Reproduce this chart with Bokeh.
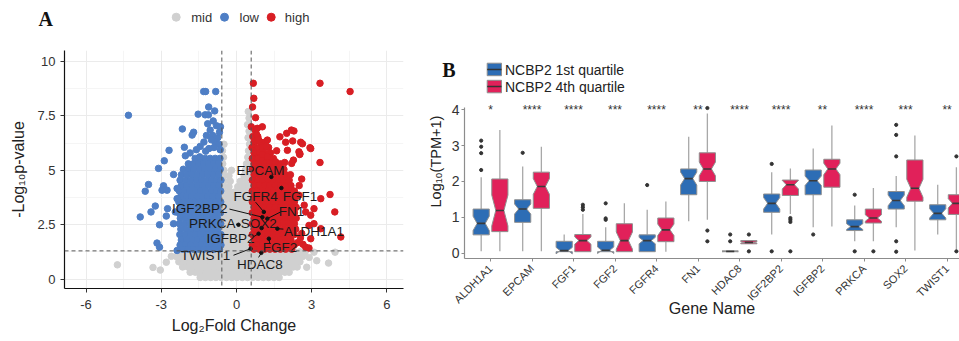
import math
from bokeh.plotting import figure
from bokeh.layouts import row, column
from bokeh.models import Range1d, FixedTicker, Span, Title
from bokeh.embed import file_html
from bokeh.resources import INLINE
from bokeh.core.properties import value

SANS = "Liberation Sans"
SERIF = "Liberation Serif"

# ---------------- Panel A : volcano plot ----------------
legend_a = ["mid", "low", "high"]
colors_a = ["#D0D0D0", "#4E7EC5", "#D81E24"]
x_ticks_a = [-6, -3, 0, 3, 6]
x_minor_a = [-4.5, -1.5, 1.5, 4.5]
y_ticks_a = [0, 2.5, 5, 7.5, 10]
y_minor_a = [1.25, 3.75, 6.25, 8.75]
fc_cutoff = 0.585
p_cutoff = 1.301

# grey ("mid") points, rows of (y, [x values])
mid_rows = [
    (0.08, [-1.45, -1.24, -1.03, -0.82, -0.61, -0.4, -0.19, 0.02, 0.23, 0.44, 0.65, 0.86, 1.07, 1.28, 1.49, 1.7]),
    (0.32, [-1.85, -1.64, -1.43, -1.22, -1.01, -0.8, -0.59, -0.38, -0.17, 0.04, 0.25, 0.46, 0.67, 0.88, 1.09, 1.3, 1.51, 1.72, 1.93, 2.1]),
    (0.56, [-2.15, -1.94, -1.73, -1.52, -1.31, -1.1, -0.89, -0.68, -0.47, -0.26, -0.05, 0.16, 0.37, 0.58, 0.79, 1.0, 1.21, 1.42, 1.63, 1.84, 2.05, 2.26, 2.42]),
    (0.80, [-2.3, -2.09, -1.88, -1.67, -1.46, -1.25, -1.04, -0.83, -0.62, -0.41, -0.2, 0.01, 0.22, 0.43, 0.64, 0.85, 1.06, 1.27, 1.48, 1.69, 1.9, 2.11, 2.32, 2.53]),
    (1.04, [-2.4, -2.19, -1.98, -1.77, -1.56, -1.35, -1.14, -0.93, -0.72, -0.51, -0.3, -0.09, 0.12, 0.33, 0.54, 0.75, 0.96, 1.17, 1.38, 1.59, 1.8, 2.01, 2.22, 2.43, 2.64]),
    (1.26, [-2.3, -2.09, -1.88, -1.67, -1.46, -1.25, -1.04, -0.83, -0.62, -0.41, -0.2, 0.01, 0.22, 0.43, 0.64, 0.85, 1.06, 1.27, 1.48, 1.69, 1.9, 2.11, 2.32, 2.53, 2.74]),
    (1.50, [-0.5, -0.29, -0.08, 0.13, 0.34, 0.53]),
    (1.75, [-0.55, -0.35, -0.14, 0.07, 0.28, 0.48]),
    (2.00, [-0.5, -0.29, -0.08, 0.13, 0.34, 0.53]),
    (2.25, [-0.53, -0.32, -0.11, 0.1, 0.31, 0.5]),
    (2.50, [-0.5, -0.29, -0.08, 0.13, 0.34, 0.53]),
    (2.75, [-0.53, -0.32, -0.11, 0.1, 0.31, 0.5]),
    (3.00, [-0.5, -0.29, -0.08, 0.13, 0.34, 0.53]),
    (3.25, [-0.53, -0.32, -0.11, 0.1, 0.31, 0.5]),
    (3.50, [-0.5, -0.29, -0.08, 0.13, 0.34, 0.53]),
    (3.75, [-0.53, -0.32, -0.11, 0.1, 0.31, 0.5]),
    (4.00, [-0.5, -0.29, -0.08, 0.13, 0.34, 0.53]),
    (4.25, [-0.53, -0.3, 0.05, 0.3, 0.5]),
    (4.50, [-0.5, -0.25, 0.15, 0.4, 0.55]),
    (4.75, [-0.53, -0.3, 0.3, 0.5]),
    (5.00, [-0.5, -0.2, 0.35, 0.53]),
    (5.30, [-0.55, 0.4, 0.52]),
    (5.60, [-0.52, 0.45]),
    (5.90, [-0.56, 0.48]),
    (6.20, [-0.5, 0.52]),
    (6.50, [0.46]),
    (6.80, [0.5]),
    (7.10, [0.44]),
    (7.40, [0.5]),
    (7.70, [0.47]),
]
mid_extra = [(-4.75, 0.66), (-3.33, 0.54), (-3.04, 0.42), (-2.8, 0.78), (-2.6, 1.05),
             (3.67, 0.74), (3.93, 1.24), (3.09, 1.24), (2.9, 1.0), (3.2, 0.85), (2.8, 0.55)]

# blue ("low") points
low_rows = [
    (5.55, [-1.65, -1.45, -1.25, -1.05, -0.85, -0.66]),
    (5.30, [-1.92, -1.72, -1.52, -1.32, -1.12, -0.92, -0.72]),
    (5.05, [-2.12, -1.9, -1.7, -1.48, -1.27, -1.05, -0.85, -0.65]),
    (4.80, [-2.2, -1.98, -1.77, -1.56, -1.35, -1.14, -0.93, -0.72]),
    (4.55, [-2.25, -2.03, -1.82, -1.6, -1.4, -1.19, -0.98, -0.78, -0.62]),
    (4.30, [-2.2, -1.98, -1.77, -1.55, -1.34, -1.12, -0.9, -0.7]),
    (4.05, [-2.28, -2.07, -1.86, -1.64, -1.43, -1.22, -1.0, -0.8, -0.63]),
    (3.80, [-2.22, -2.0, -1.78, -1.57, -1.36, -1.15, -0.94, -0.73]),
    (3.55, [-2.3, -2.08, -1.87, -1.66, -1.45, -1.24, -1.03, -0.82, -0.63]),
    (3.30, [-2.25, -2.03, -1.81, -1.6, -1.39, -1.18, -0.97, -0.76]),
    (3.05, [-2.3, -2.09, -1.88, -1.67, -1.46, -1.25, -1.04, -0.83, -0.64]),
    (2.80, [-2.24, -2.02, -1.81, -1.6, -1.39, -1.18, -0.97, -0.76]),
    (2.55, [-2.28, -2.07, -1.86, -1.65, -1.44, -1.23, -1.02, -0.81, -0.63]),
    (2.30, [-2.22, -2.0, -1.79, -1.58, -1.37, -1.16, -0.95, -0.74]),
    (2.05, [-2.26, -2.05, -1.84, -1.63, -1.42, -1.21, -1.0, -0.79, -0.62]),
    (1.80, [-2.2, -1.98, -1.77, -1.56, -1.35, -1.14, -0.93, -0.72]),
    (1.57, [-2.25, -2.03, -1.82, -1.61, -1.4, -1.19, -0.98, -0.77, -0.62]),
    (1.38, [-2.15, -1.93, -1.72, -1.51, -1.3, -1.09, -0.88, -0.68]),
]
low_extra = [(-4.31, 7.53), (-1.31, 8.62), (-1.23, 8.62), (-0.83, 8.62), (-1.11, 7.91), (-1.53, 7.58),
             (-1.25, 7.55), (-1.12, 7.55), (-0.87, 7.73), (-0.93, 7.27), (-1.15, 7.14), (-0.64, 7.0),
             (-2.16, 6.9), (-1.71, 6.75), (-1.77, 6.62), (-2.69, 5.92), (-2.08, 6.06), (-2.04, 5.67),
             (-2.88, 5.44), (-3.11, 5.09), (-1.47, 5.62), (-1.23, 5.88), (-3.51, 4.35), (-3.64, 4.04),
             (-3.84, 2.86), (-3.41, 3.09), (-3.24, 3.36), (-3.07, 2.5), (-2.91, 4.29), (-2.77, 4.09),
             (-2.97, 4.09), (-2.75, 3.24), (-2.8, 2.9), (-3.17, 1.66), (-3.07, 1.47), (-2.51, 2.55),
             (-2.44, 3.09), (-2.37, 3.7), (-2.51, 4.81), (-2.37, 4.17), (-2.37, 1.32),
             (-1.05, 6.85), (-0.95, 6.6), (-0.75, 6.5), (-0.68, 6.75), (-0.85, 6.3), (-1.0, 6.4),
             (-0.7, 6.2), (-1.3, 6.3), (-1.45, 6.1), (-1.6, 5.95), (-0.9, 6.05), (-1.1, 6.0),
             (-0.65, 5.95), (-0.8, 7.05), (-1.2, 6.6), (-1.85, 5.8)]

# red ("high") points
high_rows = [
    (6.55, [0.65, 0.85]),
    (6.30, [0.7, 0.95, 1.15]),
    (6.05, [0.62, 0.84, 1.05, 1.28]),
    (5.80, [0.7, 0.91, 1.12, 1.35]),
    (5.55, [0.63, 0.84, 1.05, 1.26, 1.47]),
    (5.30, [0.7, 0.91, 1.12, 1.33, 1.54, 1.75]),
    (5.05, [0.63, 0.84, 1.05, 1.26, 1.47, 1.68, 1.89]),
    (4.80, [0.7, 0.91, 1.12, 1.33, 1.54, 1.75, 1.96, 2.15]),
    (4.55, [0.63, 0.84, 1.05, 1.26, 1.47, 1.68, 1.89, 2.1]),
    (4.30, [0.7, 0.91, 1.12, 1.33, 1.54, 1.75, 1.96, 2.17]),
    (4.05, [0.63, 0.84, 1.05, 1.26, 1.47, 1.68, 1.89, 2.1, 2.31]),
    (3.80, [0.7, 0.91, 1.12, 1.33, 1.54, 1.75, 1.96, 2.17, 2.38]),
    (3.55, [0.63, 0.84, 1.05, 1.26, 1.47, 1.68, 1.89, 2.1, 2.31]),
    (3.30, [0.7, 0.91, 1.12, 1.33, 1.54, 1.75, 1.96, 2.17, 2.38]),
    (3.05, [0.63, 0.84, 1.05, 1.26, 1.47, 1.68, 1.89, 2.1, 2.31]),
    (2.80, [0.7, 0.91, 1.12, 1.33, 1.54, 1.75, 1.96, 2.17, 2.38]),
    (2.55, [0.63, 0.84, 1.05, 1.26, 1.47, 1.68, 1.89, 2.1, 2.31]),
    (2.30, [0.7, 0.91, 1.12, 1.33, 1.54, 1.75, 1.96, 2.17, 2.36]),
    (2.05, [0.63, 0.84, 1.05, 1.26, 1.47, 1.68, 1.89, 2.1, 2.3]),
    (1.80, [0.7, 0.91, 1.12, 1.33, 1.54, 1.75, 1.96, 2.17]),
    (1.57, [0.63, 0.84, 1.05, 1.26, 1.47, 1.68, 1.89, 2.1, 2.3]),
    (1.38, [0.7, 0.91, 1.12, 1.33, 1.54, 1.75, 1.96, 2.2]),
]
high_extra = [(3.33, 9.0), (4.53, 8.62), (0.67, 9.0), (0.69, 8.31), (0.64, 7.91), (0.76, 7.42),
              (1.03, 7.0), (0.59, 7.0), (0.76, 6.81), (0.8, 6.65), (1.73, 6.54), (2.0, 6.7),
              (2.19, 6.85), (2.29, 6.81), (1.23, 6.39), (1.96, 6.29), (2.24, 6.35), (2.56, 6.29),
              (0.89, 6.39), (0.83, 6.93), (1.19, 6.12), (2.93, 6.04), (2.49, 5.85), (2.52, 5.73),
              (1.03, 5.73), (1.23, 5.62), (2.27, 5.47), (2.2, 5.32), (1.92, 5.36), (1.56, 5.39),
              (3.33, 5.36), (2.49, 3.86), (3.73, 3.89), (3.36, 3.7), (3.92, 3.09), (3.09, 3.24),
              (2.96, 2.94), (3.09, 2.55), (4.16, 1.94), (3.36, 2.32), (2.96, 1.86), (2.76, 1.47),
              (2.89, 1.43), (2.43, 1.68), (1.83, 4.32), (1.96, 4.24), (2.6, 4.6), (2.5, 4.3),
              (2.7, 3.4), (2.6, 2.1), (2.55, 1.9), (2.65, 1.6), (2.76, 3.09), (2.89, 2.47),
              (2.03, 5.92), (2.63, 6.22), (2.53, 5.76), (2.96, 6.0), (1.6, 5.9)]

# labelled genes
label_genes = ["EPCAM", "FGFR4", "FGF1", "IGF2BP2", "FN1", "PRKCA", "SOX2",
               "ALDH1A1", "IGFBP2", "FGF2", "TWIST1", "HDAC8"]
label_fc = [1.39, 1.09, 1.79, 1.03, 1.23, 0.08, 1.0, 1.63, 0.88, 1.29, 0.56, 0.99]
label_p = [4.7, 3.09, 4.19, 2.85, 2.78, 2.5, 2.35, 2.32, 2.09, 1.86, 1.4, 1.21]
label_tx = [0.96, 0.76, 2.53, -1.47, 2.19, -0.97, 0.89, 3.09, -0.24, 1.73, -1.24, 0.93]
label_ty = [5.0, 3.81, 3.81, 3.24, 3.13, 2.55, 2.55, 2.21, 1.86, 1.47, 1.09, 0.68]
seg_x0 = [1.39, 0.76, 1.79, -0.28, 1.76, -0.02, 1.0, 1.87, 0.68, 1.33, -0.12, 0.88]
seg_y0 = [4.7, 3.54, 4.19, 3.22, 3.09, 2.53, 2.35, 2.3, 1.95, 1.62, 1.1, 1.0]


def expand(rows, extra):
    xs, ys = [], []
    for yv, row_x in rows:
        for xv in row_x:
            xs.append(xv)
            ys.append(yv)
    for xv, yv in extra:
        xs.append(xv)
        ys.append(yv)
    return xs, ys


mid_x, mid_y = expand(mid_rows, mid_extra)
low_x, low_y = expand(low_rows, low_extra)
high_x, high_y = expand(high_rows, high_extra)

# ---------------- Panel B : notched box plots ----------------
genes_b = ["ALDH1A1", "EPCAM", "FGF1", "FGF2", "FGFR4", "FN1", "HDAC8",
           "IGF2BP2", "IGFBP2", "PRKCA", "SOX2", "TWIST1"]
stars = ["*", "****", "****", "***", "****", "**", "****", "****", "**", "****", "***", "**"]
legend_b = ["NCBP2 1st quartile", "NCBP2 4th quartile"]
colors_b = ["#2D6DB5", "#E1215A"]
y_ticks_b = [0, 1, 2, 3, 4]

# 1st quartile group
q1_1 = [0.51, 0.86, 0.04, 0.04, 0.04, 1.63, 0.04, 1.14, 1.63, 0.63, 1.23, 0.93]
md_1 = [0.83, 1.23, 0.07, 0.08, 0.35, 2.08, 0.05, 1.39, 2.02, 0.74, 1.47, 1.11]
q3_1 = [1.23, 1.49, 0.33, 0.33, 0.51, 2.35, 0.06, 1.65, 2.32, 0.93, 1.72, 1.35]
nl_1 = [0.63, 1.09, -0.02, -0.01, 0.26, 1.90, 0.04, 1.23, 1.89, 0.66, 1.32, 0.98]
nh_1 = [1.03, 1.37, 0.16, 0.17, 0.44, 2.26, 0.06, 1.55, 2.15, 0.82, 1.62, 1.24]
wl_1 = [0.05, 0.05, 0.04, 0.04, 0.04, 0.89, 0.04, 0.52, 0.72, 0.33, 0.72, 0.52]
wh_1 = [2.12, 2.42, 0.52, 0.72, 1.21, 3.25, 0.06, 2.26, 2.92, 1.33, 2.15, 1.91]
out_1 = [[2.32, 2.79, 2.97, 3.14], [2.8], [], [0.93, 0.97, 1.39], [1.9], [], [0.33, 0.52],
         [0.05, 2.49], [0.52], [0.05, 1.63], [0.04, 0.33, 2.70, 3.30, 3.58], []]

# 4th quartile group
q1_4 = [0.60, 1.25, 0.04, 0.04, 0.32, 2.00, 0.26, 1.61, 1.84, 0.84, 1.45, 1.08]
md_4 = [1.19, 1.86, 0.35, 0.35, 0.65, 2.35, 0.30, 1.91, 2.35, 0.98, 1.81, 1.39]
q3_4 = [2.07, 2.26, 0.52, 0.82, 0.98, 2.80, 0.35, 2.04, 2.62, 1.23, 2.60, 1.63]
nl_4 = [0.76, 1.64, 0.25, 0.11, 0.49, 2.16, 0.28, 1.79, 2.19, 0.89, 1.56, 1.26]
nh_4 = [1.62, 2.08, 0.45, 0.59, 0.81, 2.54, 0.32, 2.03, 2.51, 1.07, 2.06, 1.52]
wl_4 = [0.05, 0.05, 0.04, 0.04, 0.04, 0.93, 0.26, 1.09, 0.74, 0.33, 0.07, 0.10]
wh_4 = [3.44, 2.97, 1.09, 1.39, 1.44, 3.90, 0.35, 2.36, 3.56, 1.82, 3.28, 2.40]
out_4 = [[], [], [1.21, 1.28, 1.35], [], [], [0.33, 0.63, 4.05], [0.05, 0.52],
         [0.05, 0.87, 0.93, 0.98], [], [0.05], [], [0.05, 2.70]]

stars_y = 3.99

# ---------------- layout (page pixels) ----------------
WA, WB = 420, 539
HA_HEAD, HB_HEAD = 42, 94
H = 341
A_LEFT, A_RIGHT = 64, 403      # frame of panel A (page x)
B_LEFT = 464                   # frame of panel B (page x)


def header(w, h, x0):
    # data units = page pixels, y measured downward from the page top
    f = figure(width=w, height=h, x_range=Range1d(x0, x0 + w), y_range=Range1d(h, 0),
               output_backend="svg", toolbar_location=None, min_border=0,
               x_axis_type=None, y_axis_type=None, frame_align=False)
    f.outline_line_color = None
    return f


# ---------- header A ----------
hA = header(WA, HA_HEAD, 0)
hA.text(x=[38], y=[18.5], text=["A"], text_font=value(SERIF), text_font_style="bold",
        text_font_size="20px", text_baseline="middle", text_align="left", text_color="#111111")
hA.scatter(x=[175.7, 224, 270.7], y=[16.7, 16.7, 16.7], size=8, color=colors_a)
hA.text(x=[190.7, 239, 284.3], y=[16.7, 16.7, 16.7], text=legend_a, text_font=value(SANS),
        text_font_size="13px", text_baseline="middle", text_align="left", text_color="#333333")

# ---------- panel A ----------
pA = figure(width=WA, height=H - HA_HEAD, x_range=Range1d(-6.86, 6.66), y_range=Range1d(-0.427, 10.505),
            output_backend="svg", toolbar_location=None, frame_align=False,
            min_border_left=A_LEFT, min_border_right=WA - A_RIGHT, min_border_top=50 - HA_HEAD,
            min_border_bottom=H - 288)
pA.outline_line_color = None
pA.xaxis.ticker = FixedTicker(ticks=x_ticks_a, minor_ticks=x_minor_a)
pA.yaxis.ticker = FixedTicker(ticks=y_ticks_a, minor_ticks=y_minor_a)
pA.xgrid.ticker = FixedTicker(ticks=x_ticks_a, minor_ticks=x_minor_a)
pA.ygrid.ticker = FixedTicker(ticks=y_ticks_a, minor_ticks=y_minor_a)
pA.xaxis.major_label_overrides = {t: str(t) for t in x_ticks_a}
pA.yaxis.major_label_overrides = {0: "0", 2.5: "2.5", 5: "5", 7.5: "7.5", 10: "10"}
for g in (pA.xgrid, pA.ygrid):
    g.grid_line_color = "#EBEBEB"
    g.minor_grid_line_color = "#F5F5F5"
for ax in (pA.xaxis, pA.yaxis):
    ax.axis_line_color = "#111111"
    ax.axis_line_width = 1.2
    ax.major_tick_line_color = "#333333"
    ax.major_tick_out = 4
    ax.major_tick_in = 0
    ax.minor_tick_line_color = None
    ax.major_label_text_font = SANS
    ax.major_label_text_font_size = "13px"
    ax.major_label_text_color = "#333333"
    ax.axis_label_text_font = SANS
    ax.axis_label_text_font_size = "16px"
    ax.axis_label_text_font_style = "normal"
    ax.axis_label_text_color = "#222222"
pA.xaxis.axis_label = "Log₂Fold Change"
pA.yaxis.axis_label = "-Log₁₀p-value"
pA.xaxis.major_label_standoff = 7
pA.yaxis.major_label_standoff = 5
pA.xaxis.axis_label_standoff = 5
pA.yaxis.axis_label_standoff = 7

pA.scatter(mid_x, mid_y, size=6.5, color=colors_a[0])
pA.scatter(low_x, low_y, size=6.5, color=colors_a[1])
pA.scatter(high_x, high_y, size=6.5, color=colors_a[2])
for loc, dim in ((-fc_cutoff, "height"), (fc_cutoff, "height"), (p_cutoff, "width")):
    pA.add_layout(Span(location=loc, dimension=dim, line_color="#555555", line_dash="4 3", line_width=1))
pA.segment(x0=seg_x0, y0=seg_y0, x1=label_fc, y1=label_p, line_color="#111111", line_width=1)
pA.scatter(label_fc, label_p, size=3.5, color="#111111")
pA.text(x=label_tx, y=label_ty, text=label_genes, text_font=value(SANS), text_font_size="13.5px",
        text_align="center", text_baseline="middle", text_color="#1A1A1A")

# ---------- header B ----------
hB = header(WB, HB_HEAD, WA)
hB.text(x=[441.7], y=[69.5], text=["B"], text_font=value(SERIF), text_font_style="bold",
        text_font_size="20px", text_baseline="middle", text_align="left", text_color="#111111")
hB.quad(left=[486.7, 486.7], right=[501, 501], top=[62.7, 79.8], bottom=[75.2, 92.3],
        fill_color=colors_b, line_color="#8F8F8F", line_width=1)
hB.segment(x0=[486.7, 486.7], y0=[69, 86], x1=[501, 501], y1=[69, 86], line_color="#333333", line_width=1.5)
hB.text(x=[504.5, 504.5], y=[69.3, 86.2], text=legend_b, text_font=value(SANS), text_font_size="14px",
        text_baseline="middle", text_align="left", text_color="#222222")

# ---------- panel B ----------
pB = figure(width=WB, height=H - HB_HEAD, x_range=Range1d(-0.627, 11.30), y_range=Range1d(-0.15, 4.26),
            output_backend="svg", toolbar_location=None, frame_align=False,
            min_border_left=B_LEFT - WA, min_border_right=0, min_border_top=100 - HB_HEAD,
            min_border_bottom=H - 258)
pB.outline_line_color = None
pB.xgrid.visible = False
pB.ygrid.visible = False
pB.xaxis.ticker = FixedTicker(ticks=list(range(len(genes_b))))
pB.xaxis.major_label_overrides = {i: g for i, g in enumerate(genes_b)}
pB.xaxis.major_label_orientation = math.pi / 4
pB.yaxis.ticker = FixedTicker(ticks=y_ticks_b)
pB.yaxis.bounds = (-0.15, 4.07)
for ax in (pB.xaxis, pB.yaxis):
    ax.axis_line_color = "#8C8C8C"
    ax.axis_line_width = 1.2
    ax.major_tick_line_color = "#8C8C8C"
    ax.major_tick_out = 3
    ax.major_tick_in = 0
    ax.minor_tick_line_color = None
    ax.major_label_text_font = SANS
    ax.major_label_text_color = "#333333"
pB.xaxis.major_label_text_font_size = "11px"
pB.yaxis.major_label_text_font_size = "14px"
pB.xaxis.major_label_standoff = 5
pB.yaxis.major_label_standoff = 2
pB.xaxis.axis_label = "Gene Name"
pB.xaxis.axis_label_text_font = SANS
pB.xaxis.axis_label_text_font_size = "16px"
pB.xaxis.axis_label_text_font_style = "normal"
pB.xaxis.axis_label_text_color = "#222222"
pB.xaxis.axis_label_standoff = -13
pB.add_layout(Title(text="Log₁₀(TPM+1)", align="left", offset=51, text_font=SANS,
                    text_font_size="14.5px", text_font_style="normal", text_color="#222222"), "left")

offsets = [-0.225, 0.225]
hw, nw = 0.195, 0.098
groups = [(q1_1, md_1, q3_1, nl_1, nh_1, wl_1, wh_1, out_1),
          (q1_4, md_4, q3_4, nl_4, nh_4, wl_4, wh_4, out_4)]
for gi, (q1, md, q3, nl, nh, wl, wh, outs) in enumerate(groups):
    xc = [i + offsets[gi] for i in range(len(genes_b))]
    pB.segment(x0=xc, y0=q3, x1=xc, y1=wh, line_color="#A8A8A8", line_width=1.3)
    pB.segment(x0=xc, y0=wl, x1=xc, y1=q1, line_color="#A8A8A8", line_width=1.3)
    xs, ys = [], []
    for c, a, m, b, lo, hi in zip(xc, q1, md, q3, nl, nh):
        xs.append([c - hw, c - hw, c - nw, c - hw, c - hw, c + hw, c + hw, c + nw, c + hw, c + hw])
        ys.append([a, lo, m, hi, b, b, hi, m, lo, a])
    pB.patches(xs, ys, fill_color=colors_b[gi], line_color="#8F8F8F", line_width=1)
    pB.segment(x0=[c - nw for c in xc], y0=md, x1=[c + nw for c in xc], y1=md,
               line_color="#3A3A3A", line_width=1.6)
    ox, oy = [], []
    for c, o in zip(xc, outs):
        for v in o:
            ox.append(c)
            oy.append(v)
    pB.scatter(ox, oy, size=3.2, color="#333333")

pB.text(x=list(range(len(genes_b))), y=[stars_y] * len(genes_b), text=stars,
        text_font=value(SANS), text_font_size="12px", text_align="center",
        text_baseline="middle", text_color="#333333")

layout = row(column(hA, pA), column(hB, pB))
open("out.html", "w").write(file_html(layout, INLINE))
